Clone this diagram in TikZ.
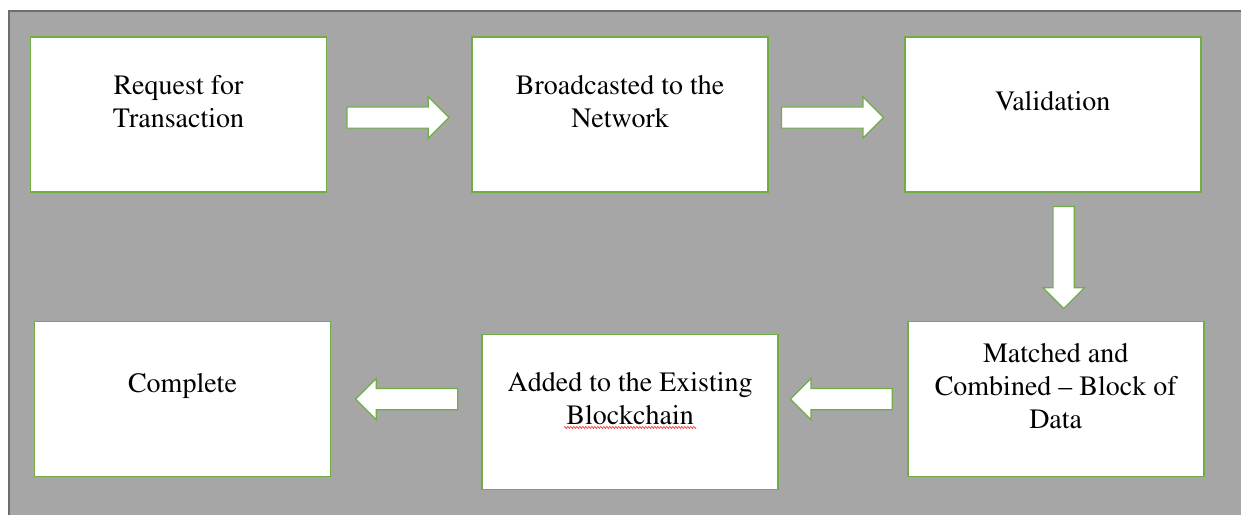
\documentclass[tikz,border=0pt]{standalone}
\usepackage[T1]{fontenc}
\usepackage{mathptmx}
\usetikzlibrary{positioning, shapes.arrows, decorations.pathmorphing}
\definecolor{officegreen}{HTML}{70AD47}
\definecolor{panelgray}{HTML}{A6A6A6}
\definecolor{rimgray}{HTML}{6E6E6E}
\begin{document}
\begin{tikzpicture}[x=1pt, y=-1pt]
      \tikzset{every node/.style={font=\fontsize{28}{33}\selectfont},
        stagebox/.style={draw=officegreen, line width=1.6pt, fill=white, minimum width=296pt, minimum height=155pt, inner sep=0pt},
        stagetext/.style={align=center, inner sep=0pt},
        blkarrow/.style={single arrow, draw=officegreen, line width=1.2pt, fill=white, minimum height=102pt, minimum width=0pt, single arrow head extend=10pt, single arrow tip angle=90, inner sep=10pt}}
      \useasboundingbox (0,0) rectangle (1241,515);
      \fill[panelgray] (8,10) rectangle (1241,515);
      \draw[rimgray, line width=2pt] (9,515) -- (9,11) -- (1241,11);
      % top row
      \node[stagebox] (req) at (178.5,114.5) {};
      \node[stagebox, right=144pt of req] (bcast) {};
      \node[stagebox, right=135pt of bcast] (valid) {};
      % bottom row
      \node[stagebox, below=128pt of valid, xshift=3pt] (match) {};
      \node[stagebox, left=128pt of match, yshift=-13pt] (added) {};
      \node[stagebox, left=150pt of added, yshift=13pt] (done) {};
      % texts
      \node[stagetext] (reqt) at ([yshift=13pt]req.center) {Request for\\Transaction};
      \node[stagetext] (bcastt) at ([yshift=13pt]bcast.center) {Broadcasted to the\\Network};
      \node[stagetext] (validt) at ([yshift=13pt]valid.center) {Validation};
      \node[stagetext] (matcht) at ([yshift=13pt]match.center) {Matched and\\Combined -- Block of\\Data};
      \node[stagetext] (addedt) at ([yshift=13pt]added.center) {Added to the Existing\\Blockchain};
      \node[stagetext] (donet) at ([yshift=13pt]done.center) {Complete};
      \draw[red!85, line width=0.6pt, decorate, decoration={zigzag, segment length=3pt, amplitude=1pt}]
        ([xshift=-66pt, yshift=-2pt]addedt.south) -- ([xshift=66pt, yshift=-2pt]addedt.south);
      % arrows
      \node[blkarrow, right=19pt of req, yshift=-3pt] (a1) {};
      \node[blkarrow, right=12pt of bcast, yshift=-3pt] (a2) {};
      \node[blkarrow, shape border rotate=270, below=13pt of valid, xshift=11pt] (a3) {};
      \node[blkarrow, shape border rotate=180, left=14pt of match] (a4) {};
      \node[blkarrow, shape border rotate=180, left=23pt of added, yshift=13pt] (a5) {};
    \end{tikzpicture}
\end{document}
